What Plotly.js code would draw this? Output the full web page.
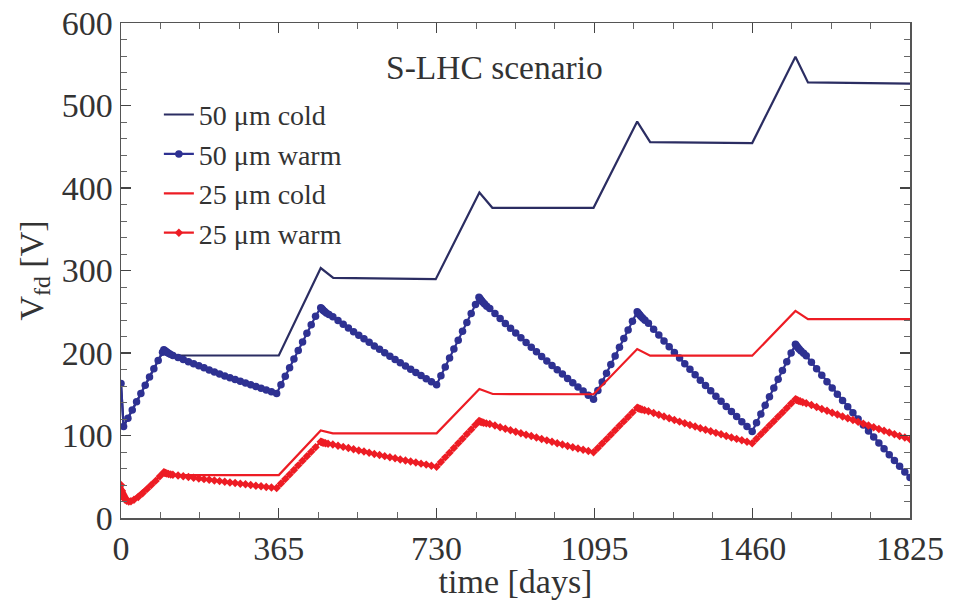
<!DOCTYPE html>
<html>
<head>
<meta charset="utf-8">
<script src="https://cdn.plot.ly/plotly-3.0.1.min.js"></script>
<style>html,body{margin:0;padding:0;background:#fff;}#chart{width:963px;height:600px;}</style>
</head>
<body>
<div id="chart"></div>
<script>
// ---- Data (time in days, V_fd in volts) ----
const cold50Days = [0, 6, 99, 120, 365, 462, 491, 728, 829, 859, 1093, 1194, 1224, 1460, 1560, 1589, 1825];
const cold50V    = [163, 111, 204, 197, 197, 303, 291, 289.5, 394.5, 376, 376, 480.5, 455.5, 454.5, 559, 528, 526.5];

const cold25Days = [0, 20, 99, 120, 365, 462, 490, 730, 829, 860, 1093, 1194, 1224, 1460, 1560, 1589, 1825];
const cold25V    = [40, 20, 55, 52, 52, 106, 102.6, 102.6, 156.4, 150.3, 150, 204.8, 196.7, 196.7, 251, 241, 241];

const warm50Days = [0, 6, 16, 26, 36, 46, 56, 66, 76, 86, 96, 99,
  101, 103, 105, 107, 110, 114, 120, 132, 144, 156, 168, 180, 192, 204, 216, 228, 240, 252, 264, 276, 288, 300, 312, 324, 336, 348, 360,
  370, 380, 390, 400, 410, 420, 430, 440, 450, 462,
  464, 466, 468, 471, 475, 481, 490, 502, 514, 526, 538, 550, 562, 574, 586, 598, 610, 622, 634, 646, 658, 670, 682, 694, 706, 718, 730,
  740, 750, 760, 770, 780, 790, 800, 810, 820, 828,
  830, 832, 834, 837, 841, 846, 853, 865, 877, 889, 901, 913, 925, 937, 949, 961, 973, 985, 997, 1009, 1021, 1033, 1045, 1057, 1069, 1081, 1093,
  1103, 1113, 1123, 1133, 1143, 1153, 1163, 1173, 1183, 1194,
  1196, 1198, 1200, 1203, 1207, 1212, 1220, 1232, 1244, 1256, 1268, 1280, 1292, 1304, 1316, 1328, 1340, 1352, 1364, 1376, 1388, 1400, 1412, 1424, 1436, 1448, 1460,
  1470, 1480, 1490, 1500, 1510, 1520, 1530, 1540, 1550, 1560,
  1562, 1564, 1566, 1569, 1573, 1579, 1585, 1597, 1609, 1621, 1633, 1645, 1657, 1669, 1681, 1693, 1705, 1717, 1729, 1741, 1753, 1765, 1777, 1789, 1801, 1813, 1825];
const warm50V = [163, 111, 121, 131, 141, 151, 161, 171, 181, 191, 201, 204,
  203, 202.2, 201.4, 200.7, 199.8, 198.6, 197, 194.5, 192, 189.5, 187, 184.5, 182, 179.5, 177, 174.5, 172, 169.9, 167.8, 165.7, 163.6, 161.5, 159.4, 157.3, 155.2, 153.1, 151,
  161.4, 171.8, 182.2, 192.6, 203, 213.4, 223.8, 234.2, 244.6, 255,
  253.8, 252.6, 251.5, 250.2, 248.6, 246.6, 244, 239.4, 234.9, 230.4, 225.9, 221.5, 217.2, 212.9, 208.6, 204.4, 200.3, 196.2, 192.1, 188.1, 184.2, 180.3, 176.4, 172.6, 168.9, 165.2, 161.5,
  172.3, 183.1, 193.9, 204.7, 215.5, 226.3, 237.1, 247.9, 258.7, 267.5,
  266, 264.6, 263.2, 261.5, 259.3, 256.7, 254, 247.9, 241.9, 235.9, 230, 224.1, 218.4, 212.6, 207, 201.4, 195.9, 190.4, 185, 179.6, 174.4, 169.1, 164, 158.9, 153.9, 148.9, 144,
  154.5, 165, 175.5, 186, 196.5, 207, 217.5, 228, 238.5, 250,
  248.6, 247.3, 246, 244.3, 242.2, 239.8, 236, 228.8, 221.7, 214.6, 207.6, 200.7, 193.8, 187, 180.3, 173.7, 167.1, 160.5, 154.1, 147.7, 141.4, 135.1, 129, 122.9, 116.8, 110.8, 104.9,
  115.5, 126, 136.6, 147.1, 157.7, 168.2, 178.8, 189.3, 199.9, 210.5,
  209, 207.6, 206.3, 204.6, 202.5, 199.6, 196.6, 188.7, 180.9, 173.1, 165.3, 157.6, 150, 142.4, 134.9, 127.5, 120.1, 112.7, 105.4, 98.2, 91, 83.8, 76.8, 69.7, 62.8, 55.9, 49];

const warm25Days = [0, 2, 4, 6, 9, 13, 18, 23, 30, 40, 50, 60, 70, 80, 90, 99,
  101, 103, 106, 110, 115, 120, 132, 144, 156, 168, 180, 192, 204, 216, 228, 240, 252, 264, 276, 288, 300, 312, 324, 336, 348, 360,
  370, 380, 390, 400, 410, 420, 430, 440, 450, 462,
  464, 466, 469, 473, 479, 490, 502, 514, 526, 538, 550, 562, 574, 586, 598, 610, 622, 634, 646, 658, 670, 682, 694, 706, 718, 730,
  740, 750, 760, 770, 780, 790, 800, 810, 820, 828,
  830, 832, 835, 839, 845, 853, 865, 877, 889, 901, 913, 925, 937, 949, 961, 973, 985, 997, 1009, 1021, 1033, 1045, 1057, 1069, 1081, 1093,
  1103, 1113, 1123, 1133, 1143, 1153, 1163, 1173, 1183, 1194,
  1196, 1198, 1201, 1205, 1211, 1220, 1232, 1244, 1256, 1268, 1280, 1292, 1304, 1316, 1328, 1340, 1352, 1364, 1376, 1388, 1400, 1412, 1424, 1436, 1448, 1460,
  1470, 1480, 1490, 1500, 1510, 1520, 1530, 1540, 1550, 1560,
  1562, 1564, 1567, 1571, 1577, 1585, 1597, 1609, 1621, 1633, 1645, 1657, 1669, 1681, 1693, 1705, 1717, 1729, 1741, 1753, 1765, 1777, 1789, 1801, 1813, 1825];
const warm25V = [40, 33, 28, 25, 22.5, 21, 20, 20.3, 22, 25.5, 30, 35, 40, 45, 50.5, 55.4,
  54.9, 54.5, 54, 53.4, 52.8, 52.3, 51.4, 50.5, 49.7, 48.8, 48, 47.1, 46.3, 45.5, 44.7, 43.9, 43.1, 42.3, 41.5, 40.8, 40, 39.2, 38.5, 37.7, 37, 36.3,
  41.8, 47.3, 52.8, 58.3, 63.8, 69.3, 74.8, 80.3, 85.8, 92.5,
  92, 91.6, 91.1, 90.6, 90, 89.2, 87.7, 86.2, 84.8, 83.3, 81.9, 80.5, 79.1, 77.7, 76.3, 75, 73.6, 72.3, 71, 69.7, 68.4, 67.2, 65.9, 64.7, 63.4, 62.2,
  67.9, 73.5, 79.2, 84.8, 90.5, 96.1, 101.8, 107.4, 113.1, 117.6,
  117.1, 116.6, 116, 115.4, 114.7, 113.9, 112, 110.1, 108.3, 106.4, 104.6, 102.8, 101, 99.3, 97.5, 95.8, 94.1, 92.4, 90.7, 89.1, 87.4, 85.8, 84.2, 82.7, 81.1, 79.6,
  84.9, 90.3, 95.6, 101, 106.4, 111.7, 117.1, 122.4, 127.8, 133.7,
  133.2, 132.7, 132.1, 131.4, 130.5, 129.3, 127.2, 125.1, 123, 120.9, 118.9, 116.8, 114.8, 112.8, 110.9, 108.9, 107, 105.1, 103.2, 101.4, 99.5, 97.7, 95.9, 94.2, 92.4, 90.7,
  96, 101.4, 106.7, 112, 117.4, 122.7, 128, 133.3, 138.7, 144,
  143.4, 142.9, 142.2, 141.4, 140.4, 139.2, 136.9, 134.5, 132.2, 129.9, 127.6, 125.4, 123.1, 120.9, 118.7, 116.5, 114.3, 112.2, 110, 107.9, 105.8, 103.7, 101.6, 99.5, 97.5, 95.4];

const seriesNames = ["50 μm cold", "50 μm warm", "25 μm cold", "25 μm warm"];
const xTickVals = [0, 365, 730, 1095, 1460, 1825];
const chartTitle = "S-LHC scenario";

// ---- Styles ----
const FONT = "Liberation Serif";
const TXT = "#333333";
const NAVY = "#2b2d62";
const BLUE = "#2e3192";
const RED = "#ed1c24";

const traces = [
  {x: cold50Days, y: cold50V, name: seriesNames[0], mode: "lines", line: {color: NAVY, width: 2.2}},
  {x: warm50Days, y: warm50V, name: seriesNames[1], mode: "lines+markers", line: {color: BLUE, width: 2.2}, marker: {symbol: "circle", size: 7.5, color: BLUE}},
  {x: cold25Days, y: cold25V, name: seriesNames[2], mode: "lines", line: {color: RED, width: 2.2}},
  {x: warm25Days, y: warm25V, name: seriesNames[3], mode: "lines+markers", line: {color: RED, width: 2.2}, marker: {symbol: "diamond", size: 6.5, color: RED}}
];

const axisCommon = {
  showgrid: false, zeroline: false, showline: true, linecolor: "#555", linewidth: 1.5,
  mirror: "allticks", ticks: "inside", ticklen: 10, tickwidth: 1.2, tickcolor: "#444",
  tickfont: {family: FONT, size: 34, color: TXT}
};

const layout = {
  width: 963, height: 600,
  margin: {l: 121, r: 53, t: 23, b: 82},
  paper_bgcolor: "#fff", plot_bgcolor: "#fff",
  font: {family: FONT, color: TXT},
  showlegend: true,
  legend: {x: 0.048, y: 0.865, xanchor: "left", yanchor: "top", bgcolor: "rgba(0,0,0,0)",
           font: {family: FONT, size: 28, color: TXT}},
  xaxis: Object.assign({}, axisCommon, {
    range: [0, 1825], tickmode: "array", tickvals: xTickVals, ticktext: xTickVals.map(String),
    minor: {dtick: 91.25, tick0: 0, ticks: "inside", ticklen: 6, tickcolor: "#666", tickwidth: 1},
    title: {text: "time [days]", font: {family: FONT, size: 34, color: TXT}, standoff: 0}
  }),
  yaxis: Object.assign({}, axisCommon, {
    range: [0, 600], dtick: 100, tick0: 0,
    minor: {dtick: 20, tick0: 0, ticks: "inside", ticklen: 6, tickcolor: "#666", tickwidth: 1},
    title: {text: "V<sub>fd</sub> [V]", font: {family: FONT, size: 34, color: TXT}, standoff: 8}
  }),
  annotations: [{
    text: chartTitle, xref: "paper", yref: "paper", x: 0.474, y: 0.911,
    xanchor: "center", yanchor: "middle", showarrow: false,
    font: {family: FONT, size: 33.5, color: TXT}
  }]
};

Plotly.newPlot("chart", traces, layout, {displayModeBar: false, staticPlot: true});
</script>
</body>
</html>
